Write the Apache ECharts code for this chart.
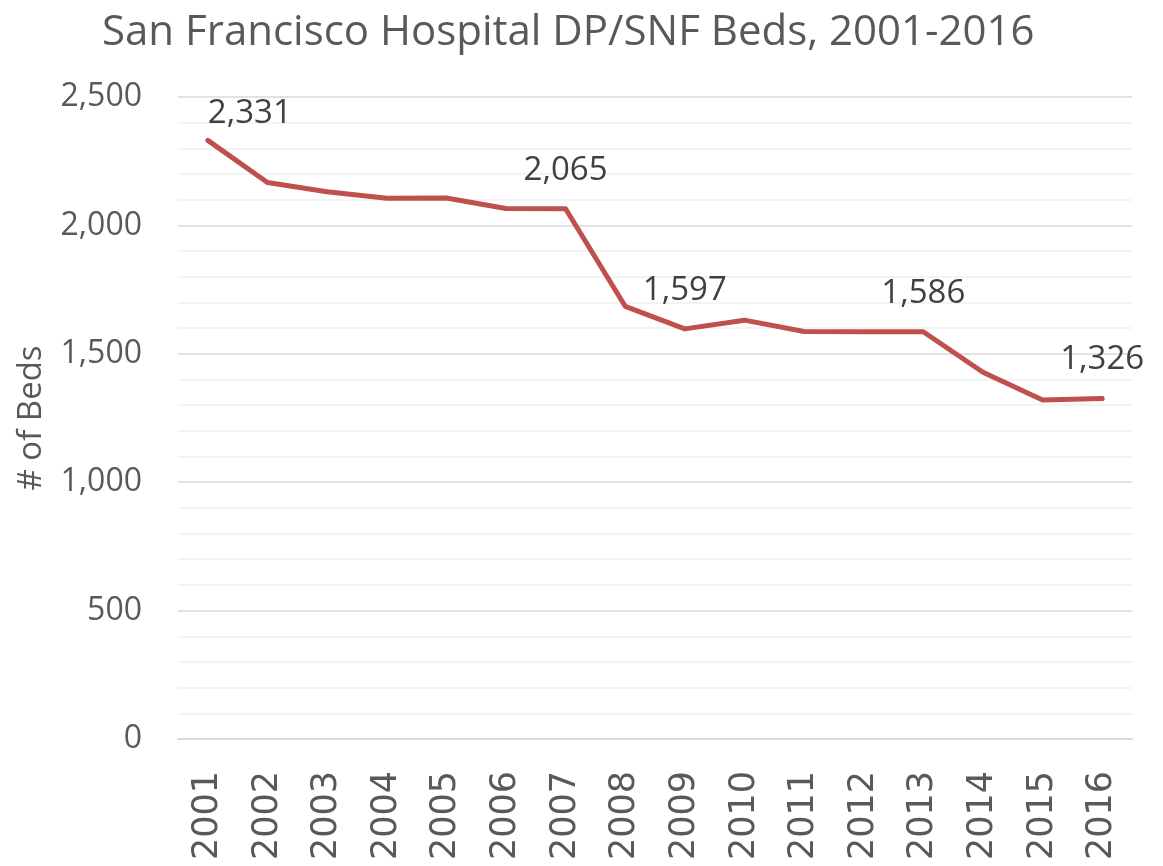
<!DOCTYPE html>
<html>
<head>
<meta charset="utf-8">
<script src="https://cdn.jsdelivr.net/npm/echarts@6/dist/echarts.min.js"></script>
<style>
html,body{margin:0;padding:0;background:#fff;}
#chart{width:1163px;height:866px;}
</style>
</head>
<body>
<div id="chart"></div>
<script>
const years = ['2001','2002','2003','2004','2005','2006','2007','2008','2009','2010','2011','2012','2013','2014','2015','2016'];
const beds = [2331, 2167, 2131, 2106, 2107, 2066, 2065, 1685, 1597, 1631, 1587, 1586, 1586, 1428, 1320, 1326];
const labeledYears = ['2001', '2007', '2009', '2013', '2016'];
const yTicks = [0, 500, 1000, 1500, 2000, 2500];

const fmt = v => v.toLocaleString('en-US');

const seriesData = beds.map((v, i) => {
  const item = { value: v };
  if (i === 0) item.label = { offset: [42, 12] };
  return item;
});

const chart = echarts.init(document.getElementById('chart'), null, { renderer: 'canvas' });
chart.setOption({
  backgroundColor: '#ffffff',
  animation: false,
  title: {
    text: 'San Francisco Hospital DP/SNF Beds, 2001-2016',
    left: 97,
    top: 7,
    textStyle: { fontFamily: 'Open Sans', fontSize: 42, fontWeight: 'normal', color: '#595959' }
  },
  grid: { left: 178, right: 31, top: 97, bottom: 127, containLabel: false },
  xAxis: {
    type: 'category',
    data: years,
    boundaryGap: true,
    axisLine: { show: true, lineStyle: { color: '#d9d9d9', width: 2 } },
    axisTick: { show: false },
    axisLabel: {
      rotate: 90,
      margin: 32,
      fontFamily: 'DejaVu Sans',
      fontSize: 35,
      color: '#595959'
    }
  },
  yAxis: {
    type: 'value',
    min: yTicks[0],
    max: yTicks[yTicks.length - 1],
    interval: 500,
    name: '# of Beds',
    nameLocation: 'middle',
    nameGap: 130,
    nameTextStyle: { fontFamily: 'Open Sans', fontSize: 33, color: '#595959' },
    axisLine: { show: false },
    axisTick: { show: false },
    axisLabel: {
      margin: 36,
      fontFamily: 'Open Sans',
      fontSize: 32,
      color: '#595959',
      formatter: v => fmt(v)
    },
    splitLine: { show: true, lineStyle: { color: '#d9d9d9', width: 1.5 } },
    minorTick: { show: false, splitNumber: 5 },
    minorSplitLine: { show: true, lineStyle: { color: '#f0f0f0', width: 1.5 } }
  },
  series: [{
    type: 'line',
    data: seriesData,
    symbol: 'circle',
    symbolSize: 2,
    showSymbol: true,
    lineStyle: { color: '#c0504d', width: 5, cap: 'round', join: 'round' },
    itemStyle: { color: '#c0504d' },
    label: {
      show: true,
      position: 'top',
      distance: 21,
      fontFamily: 'Open Sans',
      fontSize: 33,
      color: '#404040',
      formatter: p => labeledYears.includes(p.name) ? fmt(p.value) : ''
    }
  }]
});
</script>
</body>
</html>
